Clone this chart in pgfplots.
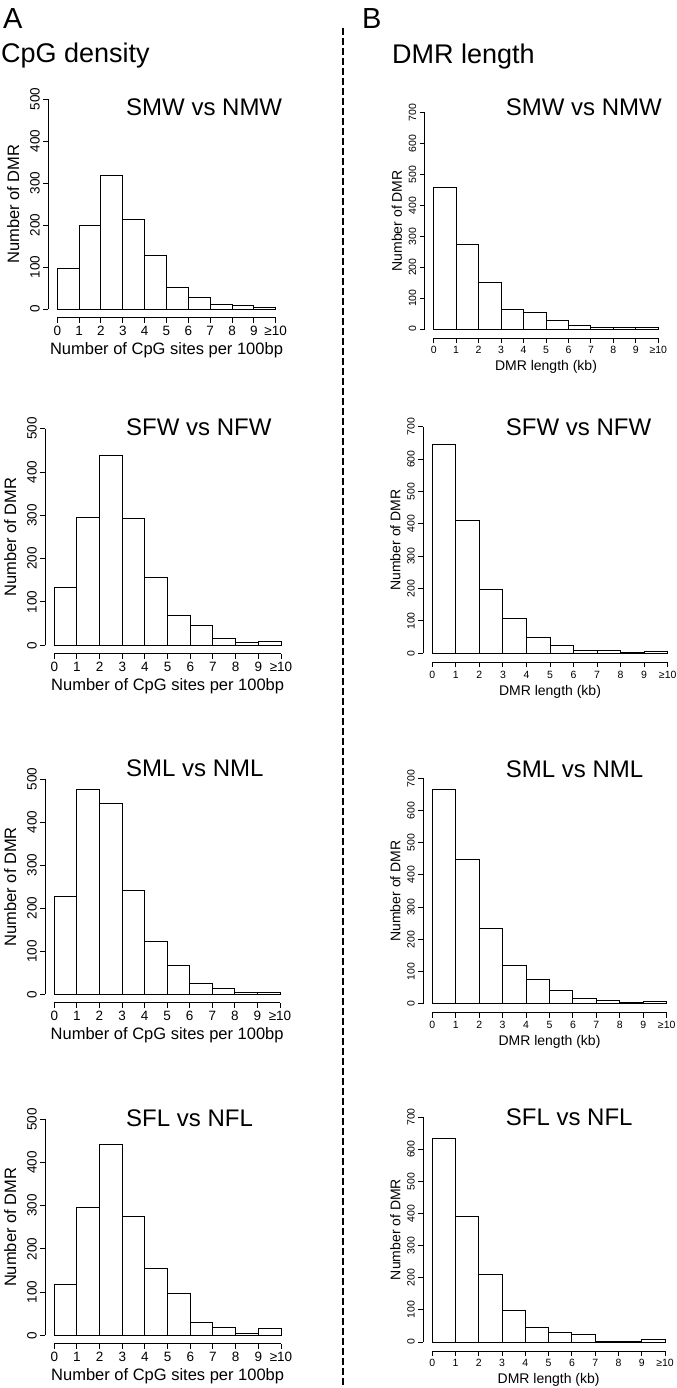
\documentclass[border=0pt]{standalone}
\usepackage{pgfplots}
\pgfplotsset{compat=1.18}
\usepackage{fontspec}
\setmainfont{Liberation Sans}
\begin{document}
\begin{tikzpicture}
\useasboundingbox (0bp,0bp) rectangle (677bp,-1388bp);
\pgfplotsset{
  rhist/.style={
    scale only axis,
    axis x line=bottom, axis y line=left,
    axis line style={-, line width=1bp, black},
    xmin=0, xmax=10,
    xtick={0,1,2,3,4,5,6,7,8,9,10},
    xticklabels={0,1,2,3,4,5,6,7,8,9,{\textup{≥}10}},
    tick align=outside,
    major tick length=5bp,
    every tick/.style={black, line width=1bp},
    yticklabel style={rotate=90, anchor=south},
    /pgf/number format/assume math mode=true,
    anchor=south west,
    clip=false,
  },
  Acol/.style={rhist, ymin=0, ymax=500, ytick={0,100,200,300,400,500},
    tick label style={font=\fontsize{13.5bp}{15bp}\selectfont},
    label style={font=\fontsize{16.5bp}{19bp}\selectfont},
    xlabel={Number of CpG sites per 100bp}, ylabel={Number of DMR},
    ylabel shift=4bp,
    axis x line shift=8.6bp, axis y line shift=9bp},
  Bcol/.style={rhist, ymin=0, ymax=700, ytick={0,100,200,300,400,500,600,700},
    tick label style={font=\fontsize{10.5bp}{12bp}\selectfont},
    label style={font=\fontsize{14bp}{16bp}\selectfont},
    xlabel={DMR length (kb)}, ylabel={Number of DMR},
    axis x line shift=9bp, axis y line shift=9bp},
  hbar/.style={ybar interval, fill=white, draw=black, line width=1bp},
}
% column headers
\node[anchor=base west, inner sep=0pt, font=\fontsize{29bp}{32bp}\selectfont] at (3bp,-28bp) {A};
\node[anchor=base west, inner sep=0pt, font=\fontsize{29bp}{32bp}\selectfont] at (362bp,-28bp) {B};
\node[anchor=base west, inner sep=0pt, font=\fontsize{27bp}{30bp}\selectfont] at (1bp,-62bp) {CpG density};
\node[anchor=base west, inner sep=0pt, font=\fontsize{27bp}{30bp}\selectfont] at (392bp,-63bp) {DMR length};
\draw[line width=1.2bp, dash pattern=on 7bp off 3bp] (343bp,-28bp) -- (343bp,-1388bp);

% ---------- Column A ----------
\begin{axis}[Acol, at={(57.3bp,-309bp)}, width=218.4bp, height=210bp]
\addplot[hbar] coordinates {(0,97)(1,200)(2,317)(3,212)(4,127)(5,52)(6,27)(7,10)(8,8)(9,3)(10,3)};
\end{axis}
\begin{axis}[Acol, at={(54.3bp,-645.3bp)}, width=226.7bp, height=216.6bp]
\addplot[hbar] coordinates {(0,133)(1,295)(2,438)(3,293)(4,157)(5,69)(6,45)(7,15)(8,6)(9,9)(10,9)};
\end{axis}
\begin{axis}[Acol, at={(54.3bp,-994.3bp)}, width=225.7bp, height=215.3bp]
\addplot[hbar] coordinates {(0,226)(1,476)(2,443)(3,242)(4,122)(5,66)(6,24)(7,13)(8,4)(9,4)(10,4)};
\end{axis}
\begin{axis}[Acol, at={(54.3bp,-1335.3bp)}, width=226.7bp, height=216bp]
\addplot[hbar] coordinates {(0,117)(1,297)(2,442)(3,276)(4,154)(5,96)(6,29)(7,19)(8,4)(9,15)(10,15)};
\end{axis}

% ---------- Column B ----------
\begin{axis}[Bcol, at={(433.7bp,-329bp)}, width=224.6bp, height=216.3bp]
\addplot[hbar] coordinates {(0,459)(1,272)(2,150)(3,64)(4,52)(5,28)(6,10)(7,6)(8,4)(9,4)(10,4)};
\end{axis}
\begin{axis}[Bcol, at={(432.3bp,-653.3bp)}, width=235.4bp, height=226.6bp]
\addplot[hbar] coordinates {(0,645)(1,410)(2,198)(3,106)(4,50)(5,25)(6,9)(7,9)(8,1)(9,5)(10,5)};
\end{axis}
\begin{axis}[Bcol, at={(432.3bp,-1003.7bp)}, width=234.4bp, height=225.4bp]
\addplot[hbar] coordinates {(0,664)(1,449)(2,234)(3,119)(4,74)(5,40)(6,16)(7,10)(8,4)(9,7)(10,7)};
\end{axis}
\begin{axis}[Bcol, at={(432.3bp,-1342bp)}, width=232.7bp, height=225bp]
\addplot[hbar] coordinates {(0,632)(1,392)(2,209)(3,98)(4,46)(5,31)(6,24)(7,3)(8,3)(9,8)(10,8)};
\end{axis}

% panel titles
\begin{scope}[every node/.style={anchor=base west, inner sep=0pt, font=\fontsize{24bp}{27bp}\selectfont}]
\node at (126bp,-115bp) {SMW vs NMW};
\node at (126bp,-435bp) {SFW vs NFW};
\node at (126bp,-776.7bp) {SML vs NML};
\node at (126bp,-1126.7bp) {SFL vs NFL};
\node at (505.7bp,-115bp) {SMW vs NMW};
\node at (505.7bp,-435bp) {SFW vs NFW};
\node at (505.7bp,-777.7bp) {SML vs NML};
\node at (505.7bp,-1125bp) {SFL vs NFL};
\end{scope}
\end{tikzpicture}
\end{document}
